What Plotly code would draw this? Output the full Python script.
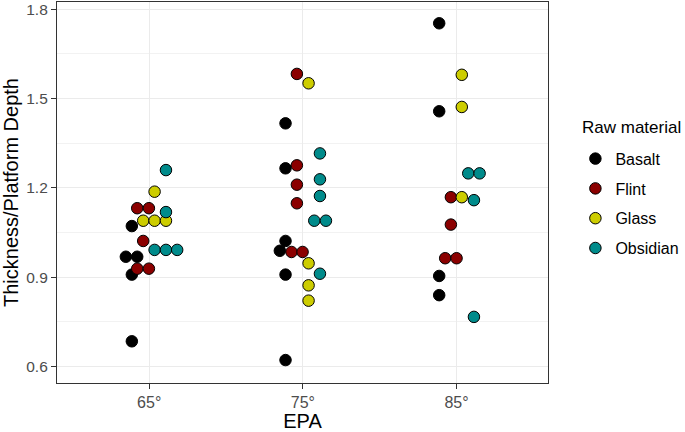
import plotly.graph_objects as go

# EPA positions (jittered, in degrees) and Thickness/Platform Depth values, per raw material
basalt_x = [63.87, 63.48, 64.22, 63.87, 63.87,
            73.87, 73.87, 73.87, 73.50, 73.87, 73.87,
            83.87, 83.87, 83.87, 83.87]
basalt_y = [1.072, 0.969, 0.969, 0.909, 0.685,
            1.417, 1.266, 1.022, 0.989, 0.909, 0.622,
            1.753, 1.4575, 0.9045, 0.840]

flint_x = [64.22, 64.98, 64.61, 64.22, 64.98,
           74.61, 74.61, 74.61, 74.61, 74.26, 74.98,
           84.63, 84.63, 84.26, 85.00]
flint_y = [1.132, 1.132, 1.022, 0.929, 0.929,
           1.583, 1.276, 1.211, 1.1485, 0.985, 0.985,
           1.169, 1.077, 0.964, 0.964]

glass_x = [65.35, 64.61, 65.35, 66.09,
           75.37, 75.37, 75.37, 75.37,
           85.34, 85.34, 85.34]
glass_y = [1.1875, 1.090, 1.090, 1.090,
           1.5515, 0.947, 0.873, 0.8215,
           1.580, 1.472, 1.169]

obsidian_x = [66.09, 66.09, 65.35, 66.09, 66.82,
              76.11, 76.11, 76.11, 75.74, 76.50, 76.11,
              85.76, 86.50, 86.13, 86.13]
obsidian_y = [1.260, 1.119, 0.992, 0.992, 0.992,
              1.316, 1.229, 1.173, 1.090, 1.090, 0.912,
              1.249, 1.249, 1.159, 0.767]

materials = ["Basalt", "Flint", "Glass", "Obsidian"]
colors = ["#000000", "#8B0000", "#CDCD00", "#008B8B"]

x_ticks = [65, 75, 85]
x_ticklabels = ["65°", "75°", "85°"]
y_ticks = [0.6, 0.9, 1.2, 1.5, 1.8]
y_ticklabels = ["0.6", "0.9", "1.2", "1.5", "1.8"]

series = [(basalt_x, basalt_y), (flint_x, flint_y), (glass_x, glass_y), (obsidian_x, obsidian_y)]

FONT = "Arial, Liberation Sans, sans-serif"

fig = go.Figure()
for name, col, (xs, ys) in zip(materials, colors, series):
    fig.add_trace(go.Scatter(
        x=xs, y=ys, mode="markers", name=name, legendgroup=name,
        marker=dict(size=11.5, color=col, line=dict(color="#000000", width=1)),
    ))

axis_common = dict(
    showline=True, mirror=True, linecolor="#333333", linewidth=1.2,
    ticks="outside", ticklen=5, tickcolor="#333333", tickwidth=1,
    gridcolor="#EBEBEB", gridwidth=1, zeroline=False, automargin=False,
)

fig.update_xaxes(
    **axis_common, range=[59.0, 90.95], tickvals=x_ticks, ticktext=x_ticklabels,
    tickfont=dict(family=FONT, size=16, color="#4D4D4D"),
    title=dict(text="EPA", font=dict(family=FONT, size=20, color="#000000")),
)
fig.update_yaxes(
    **axis_common, range=[0.545, 1.8245], tickvals=y_ticks, ticktext=y_ticklabels,
    tickfont=dict(family=FONT, size=15.5, color="#4D4D4D"),
    minor=dict(tickvals=[0.75, 1.05, 1.35, 1.65], showgrid=True, gridcolor="#F2F2F2", gridwidth=0.6, ticks=""),
    title=dict(text="Thickness/Platform Depth", font=dict(family=FONT, size=20, color="#000000")),
)

fig.add_annotation(
    text="Raw material", xref="paper", yref="paper",
    x=(580 - 57) / 491, y=(432 - 49 - 127) / 381, xanchor="left", yanchor="middle",
    showarrow=False, font=dict(family=FONT, size=17, color="#000000"),
)

fig.update_layout(
    width=685, height=432,
    margin=dict(l=57, r=137, t=2, b=49),
    plot_bgcolor="white", paper_bgcolor="white",
    font=dict(family=FONT),
    legend=dict(
        font=dict(family=FONT, size=16, color="#000000"),
        xref="container", yref="container", x=0.84, y=0.672, xanchor="left", yanchor="top",
        tracegroupgap=6, itemwidth=30, bgcolor="rgba(0,0,0,0)",
    ),
)

fig.write_html(
    "out.html",
    config={"displayModeBar": False},
    post_script="document.body.style.margin='0';document.body.style.padding='0';",
)
